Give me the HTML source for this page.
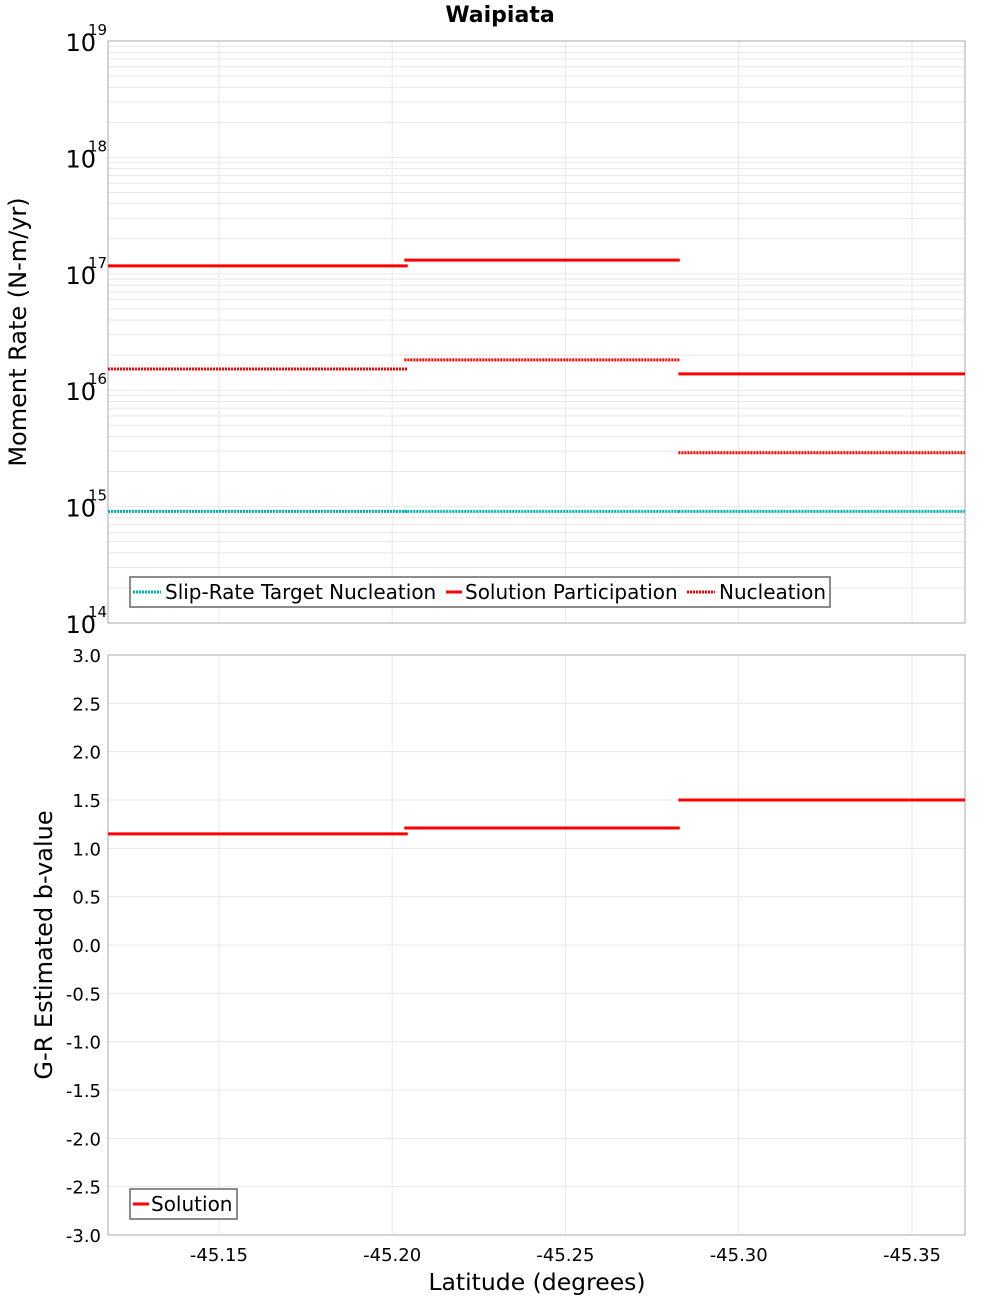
<!DOCTYPE html>
<html><head><meta charset="utf-8"><style>
html,body{margin:0;padding:0;background:#fff;}
svg{display:block;font-family:"DejaVu Sans","Liberation Sans",sans-serif;}
</style></head><body>
<svg id="chart" width="1000" height="1300" xmlns="http://www.w3.org/2000/svg">
<text x="500" y="22" text-anchor="middle" font-size="22" font-weight="bold">Waipiata</text>
<text transform="translate(26,332) rotate(-90)" text-anchor="middle" font-size="24">Moment Rate (N-m/yr)</text>
<text transform="translate(52,945) rotate(-90)" text-anchor="middle" font-size="24">G-R Estimated b-value</text>
<text x="537" y="1290" text-anchor="middle" font-size="23.5">Latitude (degrees)</text>
<g id="g"></g>
</svg>
<script>
const segStart=[-45.118,-45.2035,-45.2826];
const segEnd=[-45.2045,-45.283,-45.3653];
const partVals=[1.17e17,1.31e17,1.38e16];
const nuclVals=[1.52e16,1.82e16,2.9e15];
const targetVals=[9.1e14,9.1e14,9.1e14];
const bVals=[1.15,1.21,1.50];
const xTicks=[-45.15,-45.20,-45.25,-45.30,-45.35];
const xTickLabels=["-45.15","-45.20","-45.25","-45.30","-45.35"];
const logTicks=[14,15,16,17,18,19];
const bTicks=[-3,-2.5,-2,-1.5,-1,-0.5,0,0.5,1,1.5,2,2.5,3];

const NS="http://www.w3.org/2000/svg";
const g=document.getElementById('g');
const L=108,R=965,T1=41,B1=623,T2=655,B2=1235;
const xMin=-45.118,xMax=-45.3653;
function X(v){return L+(v-xMin)/(xMax-xMin)*(R-L);}
function Y1(v){return B1-(Math.log10(v)-14)/5*(B1-T1);}
function Y2(v){return B2-(v+3)/6*(B2-T2);}
function el(tag,attrs,parent){const e=document.createElementNS(NS,tag);for(const k in attrs)e.setAttribute(k,attrs[k]);(parent||g).appendChild(e);return e;}
function line(x1,y1,x2,y2,st,w,dash){return el('line',{x1,y1,x2,y2,stroke:st,'stroke-width':w,'stroke-dasharray':dash||'none'});}

for(let d=14;d<19;d++){for(let m=1;m<10;m++){const y=Y1(m*Math.pow(10,d));const l=line(L,y,R,y,'#e8e8e8',1);

}}
bTicks.forEach(v=>{const l=line(L,Y2(v),R,Y2(v),'#e8e8e8',1);

});
xTicks.forEach(v=>{const x=X(v);
const a=line(x,T1,x,B1,'#e8e8e8',1);


const b=line(x,T2,x,B2,'#e8e8e8',1);

});

const f1=el('rect',{x:L,y:T1,width:R-L,height:B1-T1,fill:'none',stroke:'#aaa'});


const f2=el('rect',{x:L,y:T2,width:R-L,height:B2-T2,fill:'none',stroke:'#aaa'});



logTicks.forEach(d=>{const y=Y1(Math.pow(10,d));
const t=el('text',{x:96,y:y+10,'text-anchor':'end','font-size':24});t.textContent='10';


const s=el('text',{x:88,y:y-6,'font-size':15});s.textContent=String(d);

});
bTicks.forEach(v=>{const t=el('text',{x:101,y:Y2(v)+7,'text-anchor':'end','font-size':18});t.textContent=v.toFixed(1);

});
xTicks.forEach((v,i)=>{const t=el('text',{x:X(v),y:1261,'text-anchor':'middle','font-size':18});t.textContent=xTickLabels[i];

});

targetVals.forEach((v,i)=>{const l=line(X(segStart[i]),Y1(v),X(segEnd[i]),Y1(v),'#00b4b4',3,'2,1');

});
nuclVals.forEach((v,i)=>{const l=line(X(segStart[i]),Y1(v),X(segEnd[i]),Y1(v),'#ff0000',3,'2,1');

});
partVals.forEach((v,i)=>{const l=line(X(segStart[i]),Y1(v),X(segEnd[i]),Y1(v),'#ff0000',3);

});
bVals.forEach((v,i)=>{const l=line(X(segStart[i]),Y2(v),X(segEnd[i]),Y2(v),'#ff0000',3);

});

const lg1=el('g',{});


el('rect',{x:130,y:577,width:700,height:30,fill:'#fff',stroke:'#666','stroke-width':1.5},lg1);
el('line',{x1:133,y1:592,x2:161,y2:592,stroke:'#00b4b4','stroke-width':3,'stroke-dasharray':'2,1'},lg1);
let t=el('text',{x:165,y:599,'font-size':20},lg1);t.textContent='Slip-Rate Target Nucleation';
el('line',{x1:446,y1:592,x2:462,y2:592,stroke:'#f00','stroke-width':3},lg1);
t=el('text',{x:465,y:599,'font-size':20},lg1);t.textContent='Solution Participation';
el('line',{x1:687,y1:592,x2:715,y2:592,stroke:'#f00','stroke-width':3,'stroke-dasharray':'2,1'},lg1);
t=el('text',{x:719,y:599,'font-size':20},lg1);t.textContent='Nucleation';
const lg2=el('g',{});


el('rect',{x:130,y:1189,width:107,height:30,fill:'#fff',stroke:'#666','stroke-width':1.5},lg2);
el('line',{x1:133,y1:1204,x2:149,y2:1204,stroke:'#f00','stroke-width':3},lg2);
t=el('text',{x:151,y:1211,'font-size':20},lg2);t.textContent='Solution';
</script>
</body></html>
